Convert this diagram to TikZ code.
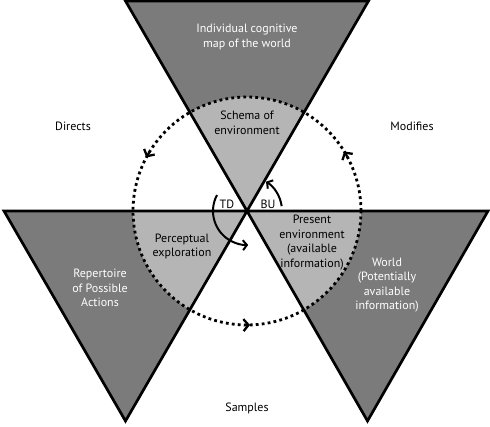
\documentclass[tikz,border=0pt]{standalone}
\usepackage{fontspec}
\setmainfont{PT Sans}
\usetikzlibrary{arrows.meta}

\definecolor{outerfill}{HTML}{7B7B7B}
\definecolor{innerfill}{HTML}{B5B5B5}

\begin{document}
\begin{tikzpicture}[
        x=1pt, y=1pt,
        every node/.style={font=\fontsize{12pt}{14.5pt}\selectfont, align=center},
        triangle/.style={draw=black, line width=2.7pt, line join=miter},
        cycleline/.style={draw=black, line width=2.8pt,
            dash pattern=on 2.8pt off 3.2pt},
        cycletip/.style={draw=black, line width=2.3pt,
            -{Straight Barb[length=5pt,width=12pt]}},
        turn/.style={draw=black, line width=2pt,
            -{Straight Barb[length=4pt,width=10pt]}},
        outertext/.style={text=white},
        innertext/.style={text=black}
    ]

    \useasboundingbox (0,0) rectangle (490,426);

    \coordinate (c) at (247,215);
    \coordinate (top1) at (125.5,425);
    \coordinate (top2) at (368.5,425);
    \coordinate (left1) at (4,215);
    \coordinate (left2) at (125.5,5);
    \coordinate (right1) at (488,215);
    \coordinate (right2) at (367.5,5);

    % dark outer parts
    \fill[outerfill] (top1) -- (top2) -- (c) -- cycle;
    \fill[outerfill] (left1) -- (c) -- (left2) -- cycle;
    \fill[outerfill] (c) -- (right1) -- (right2) -- cycle;

    % light parts inside the cycle
    \begin{scope}
        \clip (c) circle[radius=114];
        \fill[innerfill] (top1) -- (top2) -- (c) -- cycle;
        \fill[innerfill] (left1) -- (c) -- (left2) -- cycle;
        \fill[innerfill] (c) -- (right1) -- (right2) -- cycle;
    \end{scope}

    \draw[triangle] (top1) -- (top2) -- (c) -- cycle;
    \draw[triangle] (left1) -- (c) -- (left2) -- cycle;
    \draw[triangle] (c) -- (right1) -- (right2) -- cycle;

    % perceptual cycle
    \draw[cycleline] (c) circle[radius=114];
    \draw[cycletip] (c) ++(149:114) arc[start angle=149, end angle=152, radius=114];
    \draw[cycletip] (c) ++(28.5:114) arc[start angle=28.5, end angle=31.5, radius=114];
    \draw[cycletip] (c) ++(268.5:114) arc[start angle=268.5, end angle=271.5, radius=114];

    % top-down and bottom-up
    \draw[turn] (c) ++(152:34) arc[start angle=152, end angle=272, radius=34];
    \draw[turn] (c) ++(8:35) arc[start angle=8, end angle=57, radius=35];

    \node (td) at (227,222) {TD};
    \node (bu) at (268,222) {BU};

    \node[outertext] (cogmap) at (247,389) {Individual cognitive\\map of the world};
    \node[innertext] (schema) at (247,303) {Schema of\\environment};
    \node[innertext] (explore) at (182,179.5) {Perceptual\\exploration};
    \node[outertext] (actions) at (100,138) {Repertoire\\of Possible\\Actions};
    \node[innertext] (present) at (312,183.5)
        {Present\\environment\\(available\\information)};
    \node[outertext] (world) at (387,141)
        {World\\(Potentially\\available\\information)};

    \node (directs) at (73,300) {Directs};
    \node (modifies) at (412,300) {Modifies};
    \node (samples) at (247,18) {Samples};

\end{tikzpicture}
\end{document}
